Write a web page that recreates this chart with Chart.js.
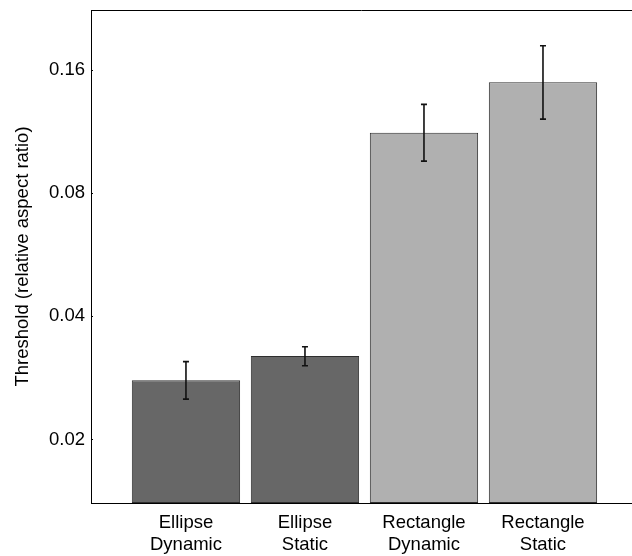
<!DOCTYPE html>
<html>
<head>
<meta charset="utf-8">
<script src="https://cdn.jsdelivr.net/npm/chart.js@4"></script>
<style>
  html, body { margin: 0; padding: 0; background: #fff; }
  #wrap { width: 632px; height: 556px; }
</style>
</head>
<body>
<div id="wrap"><canvas id="thresholdChart"></canvas></div>
<script>
// categories, bar heights and error-bar ends
const categories = [['Ellipse', 'Dynamic'], ['Ellipse', 'Static'], ['Rectangle', 'Dynamic'], ['Rectangle', 'Static']];
const thresholds = [0.0279, 0.0320, 0.1124, 0.1493];
const errLow     = [0.0251, 0.0303, 0.0958, 0.1214];
const errHigh    = [0.0310, 0.0337, 0.1319, 0.1834];
const barColors  = ['#676767', '#676767', '#b0b0b0', '#b0b0b0'];
const yTicks     = [0.02, 0.04, 0.08, 0.16];

const FONT = '"Liberation Sans", Arial, Helvetica, sans-serif';

// error bars + top frame line + small inward ticks
const extras = {
  id: 'extras',
  afterDatasetsDraw(chart) {
    const { ctx, chartArea: a } = chart;
    const xs = chart.scales.x, ys = chart.scales.y;
    ctx.save();
    ctx.strokeStyle = '#111';
    ctx.lineWidth = 1.6;
    thresholds.forEach((_, i) => {
      const x  = xs.getPixelForValue(i);
      const hi = ys.getPixelForValue(errHigh[i]);
      const lo = ys.getPixelForValue(errLow[i]);
      ctx.beginPath();
      ctx.moveTo(x, hi); ctx.lineTo(x, lo);
      ctx.moveTo(x - 3, hi); ctx.lineTo(x + 3, hi);
      ctx.moveTo(x - 3, lo); ctx.lineTo(x + 3, lo);
      ctx.stroke();
    });
    ctx.lineWidth = 1;
    ctx.strokeStyle = '#000';
    ctx.beginPath();
    ctx.moveTo(a.left, a.top + 0.5); ctx.lineTo(a.right, a.top + 0.5);
    yTicks.forEach(v => {
      const y = Math.round(ys.getPixelForValue(v)) + 0.5;
      ctx.moveTo(a.left, y); ctx.lineTo(a.left + 2, y);
    });
    ctx.stroke();
    ctx.restore();
  }
};

new Chart(document.getElementById('thresholdChart'), {
  type: 'bar',
  data: {
    datasets: [{
      data: thresholds.map((v, i) => ({ x: i, y: v })),
      backgroundColor: barColors,
      borderColor: '#2e2e2e',
      borderWidth: 1,
      borderSkipped: false,
      barPercentage: 0.91,
      categoryPercentage: 1.0
    }]
  },
  options: {
    responsive: true, maintainAspectRatio: false, animation: false,
    layout: { padding: { top: 10, right: 0, left: 0, bottom: 0 } },
    plugins: { legend: { display: false }, tooltip: { enabled: false } },
    scales: {
      x: {
        type: 'linear', offset: false,
        min: -0.798, max: 3.748,
        grid: { display: false, drawTicks: false, offset: false },
        border: { display: true, color: '#000', width: 1 },
        afterBuildTicks: s => { s.ticks = categories.map((_, i) => ({ value: i })); },
        afterFit: s => { s.height = 53; s.paddingLeft = 0; s.paddingRight = 0; },
        ticks: {
          padding: 9, color: '#000', maxRotation: 0, autoSkip: false,
          font: { family: FONT, size: 18.5, lineHeight: 1.2 },
          callback: v => categories[v]
        }
      },
      y: {
        type: 'logarithmic',
        min: 0.01399, max: 0.2243,
        grid: { display: false, drawTicks: false },
        border: { display: true, color: '#000', width: 1 },
        afterBuildTicks: s => { s.ticks = yTicks.map(v => ({ value: v })); },
        afterFit: s => { s.width = 91; s.paddingTop = 0; s.paddingBottom = 0; },
        ticks: {
          padding: 6, color: '#000',
          font: { family: FONT, size: 18.5 },
          callback: v => v.toFixed(2)
        },
        title: {
          display: true, text: 'Threshold (relative aspect ratio)', color: '#000',
          font: { family: FONT, size: 18.5 },
          padding: { top: 12, bottom: 0 }
        }
      }
    }
  },
  plugins: [extras]
});
</script>
</body>
</html>
